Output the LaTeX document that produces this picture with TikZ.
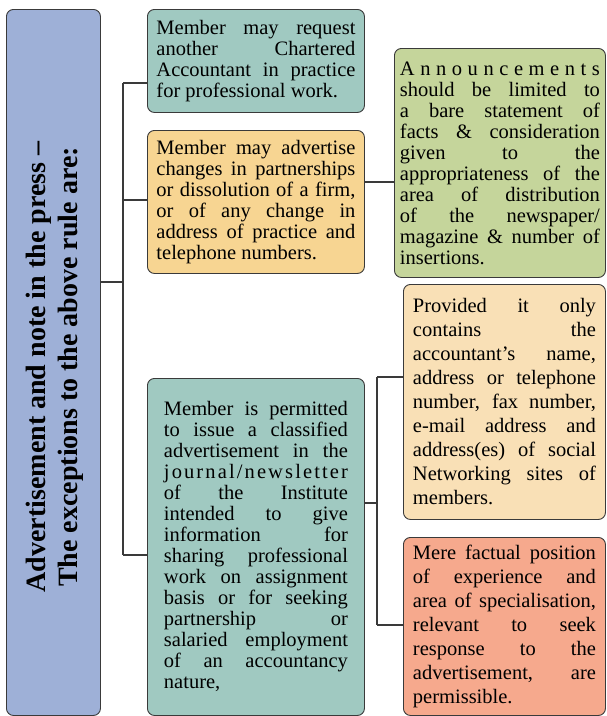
\documentclass[tikz,border=0pt]{standalone}
\usepackage{fontspec}
\setmainfont{Liberation Serif}
\usetikzlibrary{positioning}
\definecolor{lavanda}{HTML}{9EB0D7}
\definecolor{verdeazul}{HTML}{A0C9C1}
\definecolor{naranja}{HTML}{F7D592}
\definecolor{oliva}{HTML}{C5D59B}
\definecolor{melocoton}{HTML}{F9E0B6}
\definecolor{salmon}{HTML}{F6A98D}
\definecolor{trazo}{HTML}{3A3A3A}

\begin{document}
\begin{tikzpicture}[x=1pt, y=-1pt,
      caja/.style={draw=trazo, line width=0.9pt, rounded corners=7pt, anchor=north west,
                   align=justify, inner ysep=0pt, font=\fontsize{20.5}{21}\selectfont},
      linea/.style={draw=trazo, line width=1.1pt}]
    \useasboundingbox (0,0) rectangle (607,716);
    \node[caja, fill=lavanda, minimum width=94pt, minimum height=706pt, inner sep=0pt] (main) at (6,9) {};
    \node[rotate=90, align=center, font=\fontsize{28}{32}\selectfont\bfseries] (titulo) at (55,367)
      {Advertisement and note in the press --\\ The exceptions to the above rule are:};
    \node[caja, fill=verdeazul, text width=199pt, inner xsep=9pt, minimum height=103pt] (b1) at (147,9)
      {Member may request\linebreak another Chartered\linebreak Accountant in practice\linebreak for professional work.};
    \node[caja, fill=naranja, text width=199pt, inner xsep=9pt, minimum height=143pt] (b2) at (147,130)
      {Member may advertise\linebreak changes in partnerships\linebreak or dissolution of a firm,\linebreak or of any change in\linebreak address of practice and\linebreak telephone numbers.};
    \node[caja, fill=oliva, text width=200pt, inner xsep=5.5pt, minimum height=229pt] (b3) at (394,48)
      {A\hfil n\hfil n\hfil o\hfil u\hfil n\hfil c\hfil e\hfil m\hfil e\hfil n\hfil t\hfil s\linebreak should be limited to\linebreak a bare statement of\linebreak facts \& consideration\linebreak given to the\linebreak appropriateness of the\linebreak area of distribution\linebreak of the newspaper/\linebreak magazine \& number of\linebreak insertions.};
    \node[caja, fill=verdeazul, text width=184pt, inner xsep=16.5pt, minimum height=337pt] (b4) at (147,378)
      {Member is permitted\linebreak to issue a classified\linebreak advertisement in the\linebreak j\hfil o\hfil u\hfil r\hfil n\hfil a\hfil l\hfil /\hfil n\hfil e\hfil w\hfil s\hfil l\hfil e\hfil t\hfil t\hfil e\hfil r\linebreak of the Institute\linebreak intended to give\linebreak information for\linebreak sharing professional\linebreak work on assignment\linebreak basis or for seeking\linebreak partnership or\linebreak salaried employment\linebreak of an accountancy\linebreak nature,};
    \node[caja, fill=melocoton, text width=183pt, inner xsep=9.5pt, minimum height=235pt,
          font=\fontsize{20.5}{24}\selectfont] (b5) at (403,284)
      {Provided it only\linebreak contains the\linebreak accountant's name,\linebreak address or telephone\linebreak number, fax number,\linebreak e-mail address and\linebreak address(es) of social\linebreak Networking sites of\linebreak members.};
    \node[caja, fill=salmon, text width=183pt, inner xsep=9.5pt, minimum height=178pt,
          font=\fontsize{20.5}{24}\selectfont] (b6) at (403,537)
      {Mere factual position\linebreak of experience and\linebreak area of specialisation,\linebreak relevant to seek\linebreak response to the\linebreak advertisement, are\linebreak permissible.};
    \coordinate (j0) at (123,282);
    \coordinate (r1) at (123,83);
    \coordinate (r2) at (123,200);
    \coordinate (r4) at (123,555);
    \coordinate (c23) at (380,182);
    \coordinate (k0) at (377,503);
    \coordinate (k5) at (377,377);
    \coordinate (k6) at (377,625);
    \draw[linea] (main.east |- j0) -- (j0);
    \draw[linea] (r1) -- (r4);
    \draw[linea] (r1) -- (r1 -| b1.west);
    \draw[linea] (r2) -- (r2 -| b2.west);
    \draw[linea] (r4) -- (r4 -| b4.west);
    \draw[linea] (c23 -| b2.east) -- (c23 -| b3.west);
    \draw[linea] (k0 -| b4.east) -- (k0);
    \draw[linea] (k5) -- (k6);
    \draw[linea] (k5) -- (k5 -| b5.west);
    \draw[linea] (k6) -- (k6 -| b6.west);
  \end{tikzpicture}
\end{document}
